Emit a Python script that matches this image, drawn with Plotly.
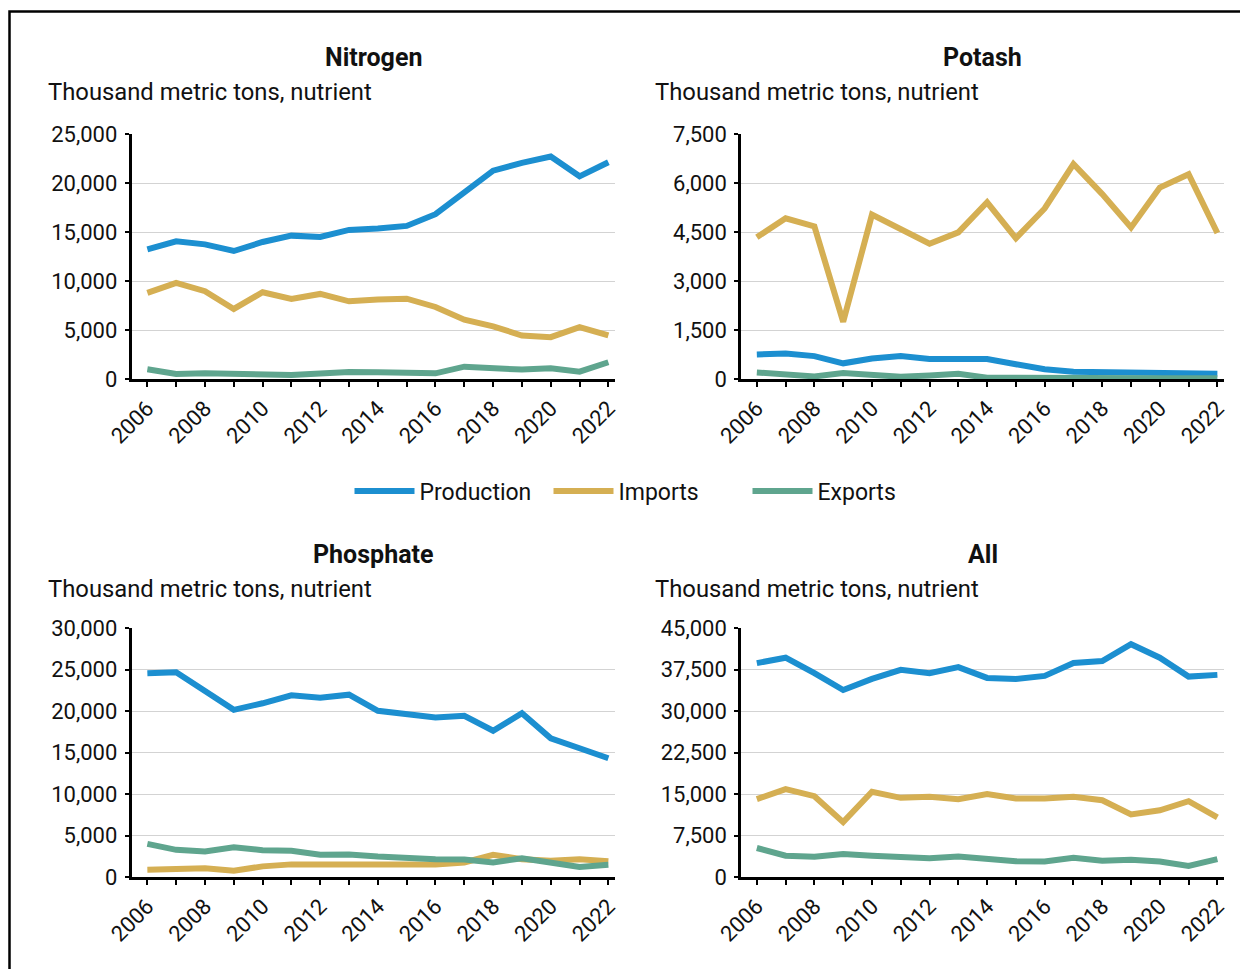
import plotly.graph_objects as go

years = list(range(2006, 2023))

nitrogen_production = [13230, 14050, 13740, 13060, 13980, 14630, 14500, 15210, 15350, 15620, 16820, 18970, 21260, 22050, 22700, 20680, 22120]
nitrogen_imports = [8790, 9810, 8960, 7150, 8850, 8170, 8680, 7930, 8100, 8200, 7350, 6050, 5370, 4440, 4270, 5300, 4440]
nitrogen_exports = [990, 510, 580, 480, 410, 410, 550, 720, 680, 580, 580, 1260, 1130, 960, 1090, 750, 1710]

potash_production = [750, 780, 700, 480, 630, 700, 610, 630, 610, 450, 300, 220, 200, 190, 180, 160, 160]
potash_imports = [4340, 4920, 4670, 1750, 5030, 4590, 4140, 4490, 5410, 4310, 5220, 6580, 5660, 4640, 5860, 6270, 4470]
potash_exports = [200, 140, 80, 180, 130, 70, 110, 160, 40, 30, 20, 20, 20, 20, 20, 20, 20]

phosphate_production = [24560, 24680, 22410, 20140, 20930, 21890, 21610, 21970, 20020, 19700, 19220, 19420, 17620, 19740, 16710, 15510, 14310]
phosphate_imports = [880, 1000, 1040, 760, 1280, 1520, 1560, 1560, 1480, 1520, 1520, 1750, 2670, 2150, 1950, 2150, 1910]
phosphate_exports = [3990, 3270, 3070, 3590, 3230, 3150, 2670, 2710, 2470, 2230, 2150, 2110, 1750, 2270, 1750, 1200, 1480]

all_production = [38660, 39630, 36830, 33790, 35800, 37440, 36830, 37930, 35980, 35800, 36340, 38660, 39020, 42070, 39630, 36220, 36530]
all_imports = [14060, 15890, 14610, 9920, 15400, 14310, 14490, 14060, 14980, 14180, 14180, 14490, 13880, 11320, 12050, 13700, 10780]
all_exports = [5240, 3840, 3650, 4140, 3840, 3710, 3410, 3710, 3230, 2860, 2800, 3470, 2920, 3100, 2800, 2010, 3230]

panel_titles = ["Nitrogen", "Potash", "Phosphate", "All"]
unit_label = "Thousand metric tons, nutrient"
series_names = ["Production", "Imports", "Exports"]
x_tick_years = list(range(2006, 2023, 2))
y_ticks = [
    [0, 5000, 10000, 15000, 20000, 25000],
    [0, 1500, 3000, 4500, 6000, 7500],
    [0, 5000, 10000, 15000, 20000, 25000, 30000],
    [0, 7500, 15000, 22500, 30000, 37500, 45000],
]

panels = [
    (nitrogen_production, nitrogen_imports, nitrogen_exports),
    (potash_production, potash_imports, potash_exports),
    (phosphate_production, phosphate_imports, phosphate_exports),
    (all_production, all_imports, all_exports),
]

colors = ["#1c8fd0", "#d5af53", "#5fa58e"]
FONT = "Roboto, Arial, sans-serif"
TXT = "#111111"
OFF = 8  # page body margin
W, H = 1240, 961


def px(x):
    return (x - OFF) / W


def py(y):
    return 1 - (y - OFF) / H


# pixel layout in page coordinates (left, right, top, bottom)
boxes = [
    (131.5, 615, 134, 379),
    (741, 1224, 134, 379),
    (131.5, 615, 628, 877),
    (741, 1224, 628, 877),
]

fig = go.Figure()
layout = dict(
    template="none",
    width=W, height=H, autosize=False,
    margin=dict(l=0, r=0, t=0, b=0, pad=0, autoexpand=False),
    paper_bgcolor="white", plot_bgcolor="white",
    font=dict(family=FONT, size=22, color=TXT),
    showlegend=True,
    legend=dict(orientation="h", x=px(648), xanchor="center", y=py(491), yanchor="middle",
                font=dict(family=FONT, size=23, color=TXT), itemwidth=60,
                entrywidth=124, entrywidthmode="pixels",
                bgcolor="rgba(0,0,0,0)", traceorder="normal"),
    annotations=[], shapes=[],
)

for i, (series, box) in enumerate(zip(panels, boxes)):
    l, r, t, b = box
    xa = "xaxis" if i == 0 else f"xaxis{i+1}"
    ya = "yaxis" if i == 0 else f"yaxis{i+1}"
    xr = "x" if i == 0 else f"x{i+1}"
    yr = "y" if i == 0 else f"y{i+1}"
    for j, (vals, name) in enumerate(zip(series, series_names)):
        fig.add_trace(go.Scatter(
            x=years, y=vals, mode="lines", name=name,
            line=dict(color=colors[j], width=6),
            xaxis=xr, yaxis=yr, showlegend=(i == 0), legendgroup=name,
        ))
    layout[xa] = dict(
        domain=[px(l), px(r)], anchor=yr, range=[2005.45, 2022.23], automargin=False,
        tickmode="array", tickvals=x_tick_years, ticktext=[str(v) for v in x_tick_years],
        tickangle=-45, ticks="outside", ticklen=5, tickwidth=2, tickcolor="black",
        minor=dict(dtick=1, tick0=2006, ticks="outside", ticklen=5, tickwidth=2, tickcolor="black", showgrid=False),
        showline=True, linecolor="black", linewidth=2.5, showgrid=False, zeroline=False,
        tickfont=dict(family=FONT, size=22, color=TXT), fixedrange=True,
    )
    layout[ya] = dict(
        domain=[py(b), py(t)], anchor=xr, range=[0, y_ticks[i][-1]], automargin=False,
        tickmode="array", tickvals=y_ticks[i], ticktext=[f"{v:,}" for v in y_ticks[i]],
        ticks="outside", ticklen=4, tickwidth=2, tickcolor="black", ticklabelstandoff=3,
        showline=True, linecolor="black", linewidth=2.5,
        showgrid=True, gridcolor="#d3d3d3", gridwidth=1.2, zeroline=False,
        tickfont=dict(family=FONT, size=22, color=TXT), fixedrange=True,
    )
    title_y = 58 if i < 2 else 554
    sub_y = 92 if i < 2 else 589
    sub_x = 46 if i % 2 == 0 else 653
    layout["annotations"].append(dict(
        text=f"<b>{panel_titles[i]}</b>", xref="paper", yref="paper",
        x=px((l + r) / 2), y=py(title_y), xanchor="center", yanchor="middle",
        showarrow=False, font=dict(family=FONT, size=25, color=TXT),
    ))
    layout["annotations"].append(dict(
        text=unit_label, xref="paper", yref="paper",
        x=px(sub_x), y=py(sub_y), xanchor="left", yanchor="middle",
        showarrow=False, font=dict(family=FONT, size=23.8, color=TXT),
    ))

layout["shapes"].append(dict(
    type="rect", xref="paper", yref="paper",
    x0=px(9.5), x1=1.05, y0=-0.05, y1=py(11.5),
    line=dict(color="black", width=2.5), fillcolor="rgba(0,0,0,0)", layer="above",
))

fig.update_layout(**layout)
fig.write_html("out.html")
